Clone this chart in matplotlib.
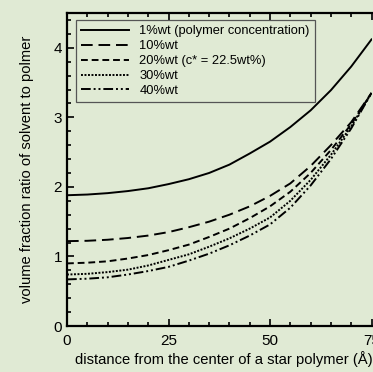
import matplotlib
matplotlib.use("Agg")
import matplotlib.pyplot as plt

# distance from centre (Angstrom)
x = [0, 5, 10, 15, 20, 25, 30, 35, 40, 45, 50, 55, 60, 65, 70, 75]

wt1 = [1.88, 1.89, 1.91, 1.94, 1.98, 2.04, 2.11, 2.20, 2.32, 2.48, 2.65, 2.86, 3.10, 3.39, 3.73, 4.12]
wt10 = [1.22, 1.225, 1.24, 1.265, 1.30, 1.35, 1.42, 1.50, 1.60, 1.72, 1.87, 2.05, 2.30, 2.60, 2.93, 3.35]
wt20 = [0.90, 0.91, 0.93, 0.97, 1.02, 1.09, 1.17, 1.28, 1.40, 1.55, 1.72, 1.93, 2.20, 2.53, 2.90, 3.35]
wt30 = [0.74, 0.75, 0.775, 0.81, 0.87, 0.95, 1.03, 1.14, 1.26, 1.40, 1.56, 1.80, 2.10, 2.46, 2.87, 3.35]
wt40 = [0.67, 0.68, 0.70, 0.74, 0.79, 0.85, 0.94, 1.04, 1.16, 1.30, 1.46, 1.70, 2.02, 2.40, 2.84, 3.35]

labels = ["1%wt (polymer concentration)", "10%wt", "20%wt (c* = 22.5wt%)", "30%wt", "40%wt"]

bg = "#e0ead4"
plt.rcParams["font.family"] = ["Liberation Sans", "DejaVu Sans"]

fig = plt.figure(figsize=(3.73, 3.72), dpi=100, facecolor=bg)
ax = fig.add_axes([67 / 373, 1 - 326 / 372, 304.5 / 373, 313 / 372], facecolor=bg)

lw = 1.4
ax.plot(x, wt1, color="black", lw=lw, ls="-", label=labels[0])
ax.plot(x, wt10, color="black", lw=lw, ls=(0, (6, 3)), label=labels[1])
ax.plot(x, wt20, color="black", lw=lw, ls=(0, (3.5, 2)), label=labels[2])
ax.plot(x, wt30, color="black", lw=lw, ls=(0, (1, 0.8)), label=labels[3])
ax.plot(x, wt40, color="black", lw=lw, ls=(0, (5, 1.5, 1, 1.5, 1, 1.5)), label=labels[4])

ax.set_xlim(0, 75)
ax.set_ylim(0, 4.5)
ax.set_xticks([0, 25, 50, 75])
ax.set_yticks([0, 1, 2, 3, 4])
ax.set_xticks(range(0, 76, 5), minor=True)
ax.set_yticks([i * 0.2 for i in range(23)], minor=True)
ax.tick_params(which="both", direction="in", top=True, right=False, width=1.2, labelsize=11)
ax.tick_params(which="major", length=5)
ax.tick_params(which="minor", length=3)
ax.tick_params(axis="x", pad=6)
for s in ["left", "bottom", "top"]:
    ax.spines[s].set_linewidth(1.6)
ax.spines["right"].set_visible(False)

ax.set_xlabel("distance from the center of a star polymer (\u00c5)", fontsize=10.6, labelpad=2)
ax.xaxis.label.set_x(0.514)
ax.set_ylabel("volume fraction ratio of solvent to polmer", fontsize=10.6, labelpad=14)

leg = ax.legend(loc="upper left", bbox_to_anchor=(0.03, 0.977), fontsize=9.3, frameon=True,
                fancybox=False, edgecolor="#555555", facecolor=bg, framealpha=1,
                handlelength=3.7, labelspacing=0.22, borderpad=0.4, handletextpad=0.8,
                borderaxespad=0)
leg.get_frame().set_linewidth(0.9)

fig.savefig("out.png", dpi=100, facecolor=bg)
